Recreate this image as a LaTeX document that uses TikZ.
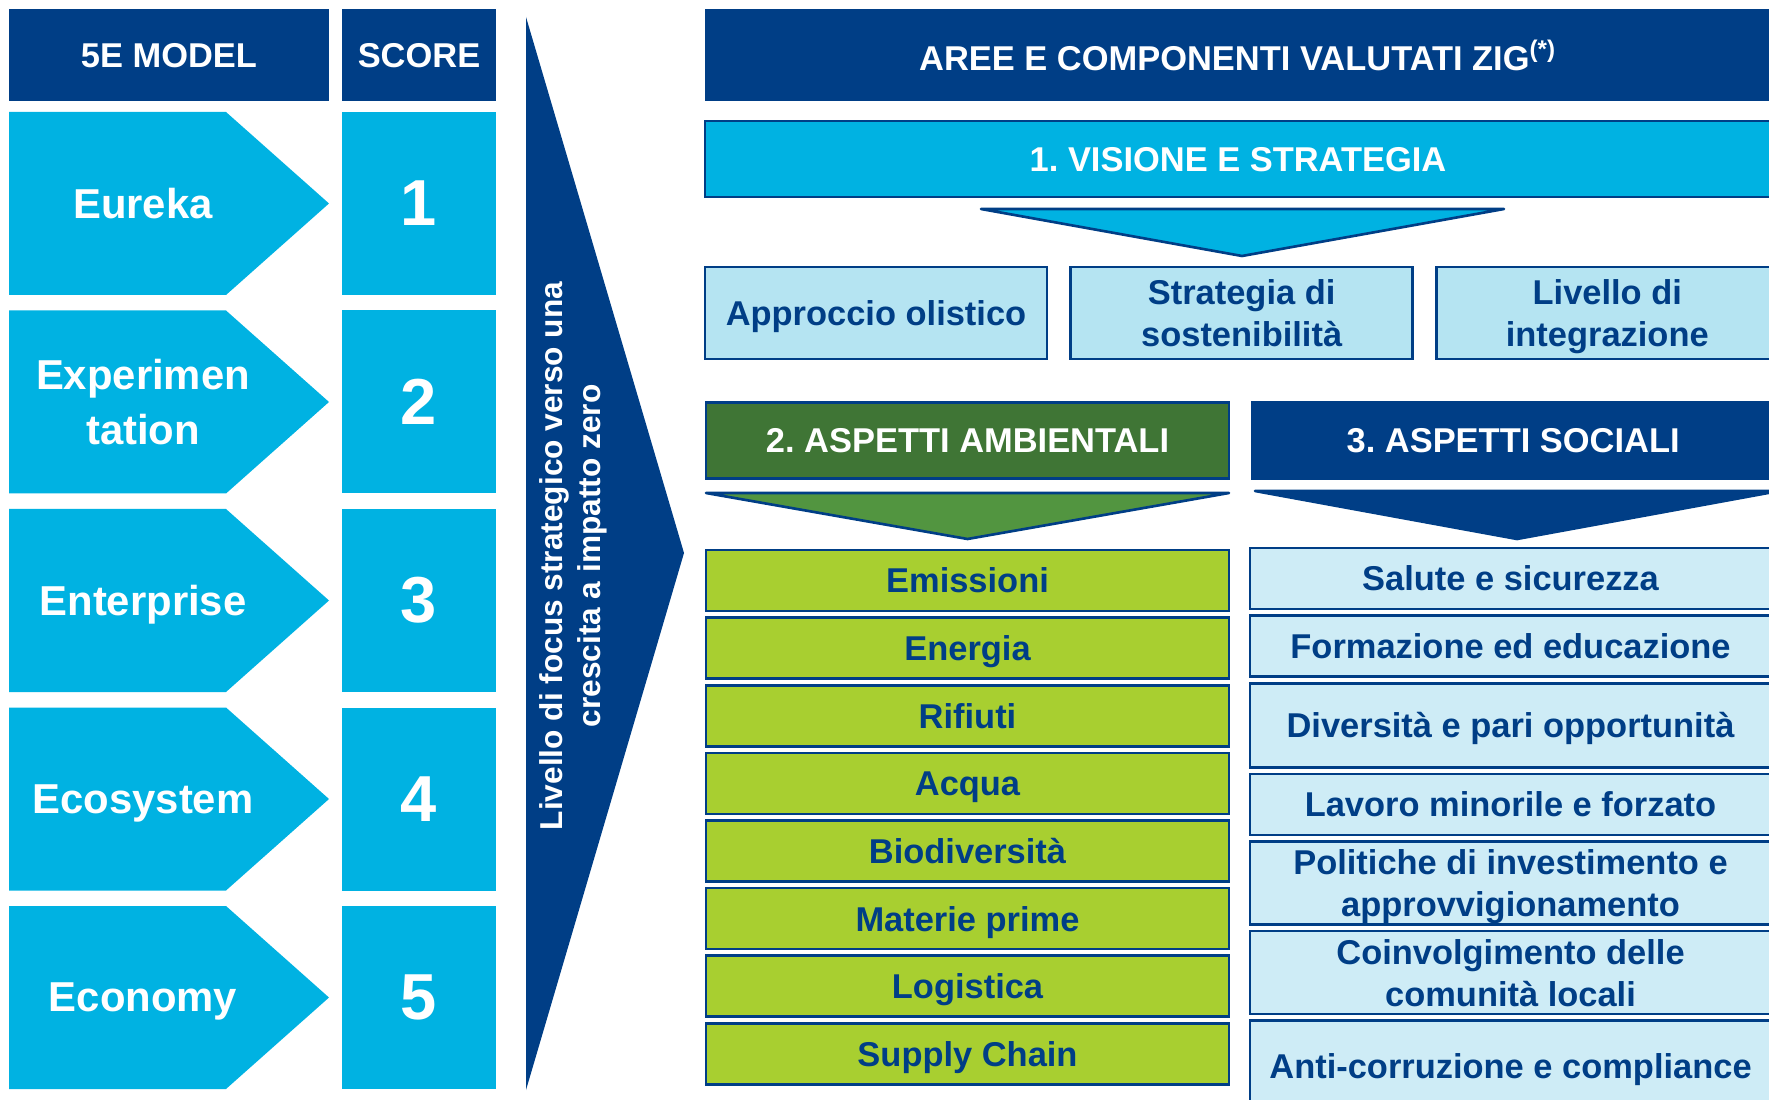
\documentclass[tikz,border=0pt]{standalone}
\usepackage{fontspec}
\setmainfont{Liberation Sans}
\usetikzlibrary{positioning}

\definecolor{navyZ}{RGB}{0,62,134}
\definecolor{cyanZ}{RGB}{0,178,226}
\definecolor{paleZ}{RGB}{181,228,242}
\definecolor{paleS}{RGB}{206,236,246}
\definecolor{darkG}{RGB}{63,117,53}
\definecolor{midG}{RGB}{82,149,64}
\definecolor{limeG}{RGB}{168,207,48}

\newcommand{\zigfont}{\fontsize{9.8}{11.9}\selectfont\bfseries\frenchspacing}
\newcommand{\chevfont}{\fontsize{11.9}{15.6}\selectfont\bfseries}
\newcommand{\numfont}{\fontsize{18.5}{20}\selectfont\bfseries}
\newcommand{\sidefont}{\fontsize{9}{10.8}\selectfont\bfseries}

\tikzset{
  topbar/.style={fill=navyZ, text=white, inner sep=0pt, text depth=0pt, minimum height=9.2mm, font=\zigfont},
  score/.style={fill=cyanZ, text=white, inner sep=0pt, minimum width=15.4mm, minimum height=18.3mm, font=\numfont},
  chev/.style={text=white, text depth=0pt, font=\chevfont, align=center},
  sect/.style={draw=navyZ, line width=0.75pt, text=white, inner sep=0pt, text depth=0pt, minimum height=7.6mm, font=\zigfont},
  cell/.style={draw=navyZ, line width=0.75pt, text=navyZ, inner sep=0pt, text depth=0pt, font=\zigfont, align=center},
  envbox/.style={cell, fill=limeG, minimum width=52.3mm, minimum height=6.1mm},
  socbox/.style={cell, fill=paleS, minimum width=52.1mm, minimum height=6.1mm},
  pillar/.style={cell, fill=paleZ, minimum width=34.2mm, minimum height=9.2mm},
  funnel/.style={draw=navyZ, line width=0.75pt, line join=round},
}

\begin{document}
\begin{tikzpicture}[x=0.1mm, y=-0.1mm, node distance=0.4mm]
  \path[use as bounding box, clip] (0,0) rectangle (1769,1100);

  % Left columns
  \node (model) [topbar, minimum width=32mm] at (169,55) {5E MODEL};
  \node (scorehead) [topbar, minimum width=15.4mm] at (419,55) {SCORE};
  \foreach \c/\txt/\n in {203.5/Eureka/1, 402/{Experimen\\tation}/2, 600.5/Enterprise/3, 799/Ecosystem/4, 997.5/Economy/5}{
    \fill[cyanZ] (9,\c-91.5) -- (226,\c-91.5) -- (329,\c) -- (226,\c+91.5) -- (9,\c+91.5) -- cycle;
    \node (stage\n) [chev] at (143,\c) {\txt};
    \node (score\n) [score] at (419,\c) {\n};
  }

  % Focus wedge
  \fill[navyZ] (526,17) -- (684,553) -- (526,1090) -- cycle;
  \node (focus) [rotate=90, text=white, font=\sidefont, align=center] at (573,556) {Livello di focus strategico verso una\\crescita a impatto zero};

  % Areas
  \node (aree) [topbar, minimum width=106.6mm] at (1238,55) {AREE E COMPONENTI VALUTATI ZIG\textsuperscript{(*)}};
  \node (visione) [sect, fill=cyanZ, minimum width=106.6mm] at (1238,159) {1. VISIONE E STRATEGIA};
  \draw[funnel, fill=cyanZ] (981,209) -- (1504,209) -- (1242,256) -- cycle;
  \node (olistico) [pillar] at (876,313) {Approccio olistico};
  \node (strategia) [pillar, right=2.1mm of olistico] {Strategia di\\sostenibilità};
  \node (integra) [pillar, right=2.1mm of strategia] {Livello di\\integrazione};

  \node (ambiente) [sect, fill=darkG, minimum width=52.3mm] at (967.5,440.5) {2. ASPETTI AMBIENTALI};
  \node (sociale) [sect, fill=navyZ, minimum width=52.1mm, right=2.1mm of ambiente] {3. ASPETTI SOCIALI};
  \draw[funnel, fill=midG] (706,493) -- (1229,493) -- (967.5,539) -- cycle;
  \draw[funnel, fill=navyZ] (1255,491) -- (1779,491) -- (1517,539) -- cycle;

  % Environmental items
  \node (emissioni) [envbox] at (967.5,580.5) {Emissioni};
  \node (energia) [envbox, below=of emissioni] {Energia};
  \node (rifiuti) [envbox, below=of energia] {Rifiuti};
  \node (acqua) [envbox, below=of rifiuti] {Acqua};
  \node (biodiv) [envbox, below=of acqua] {Biodiversità};
  \node (materie) [envbox, below=of biodiv] {Materie prime};
  \node (logistica) [envbox, below=of materie] {Logistica};
  \node (supply) [envbox, below=of logistica] {Supply Chain};

  % Social items
  \node (salute) [socbox] at (1510.5,578.5) {Salute e sicurezza};
  \node (formazione) [socbox, below=of salute] {Formazione ed educazione};
  \node (diversita) [socbox, minimum height=8.4mm, below=of formazione] {Diversità e pari opportunità};
  \node (lavoro) [socbox, below=of diversita] {Lavoro minorile e forzato};
  \node (politiche) [socbox, minimum height=8.3mm, below=of lavoro] {Politiche di investimento e\\approvvigionamento};
  \node (comunita) [socbox, minimum height=8.3mm, below=of politiche] {Coinvolgimento delle\\comunità locali};
  \node (anticorr) [socbox, minimum height=9mm, below=of comunita] {Anti-corruzione e compliance};
\end{tikzpicture}
\end{document}
